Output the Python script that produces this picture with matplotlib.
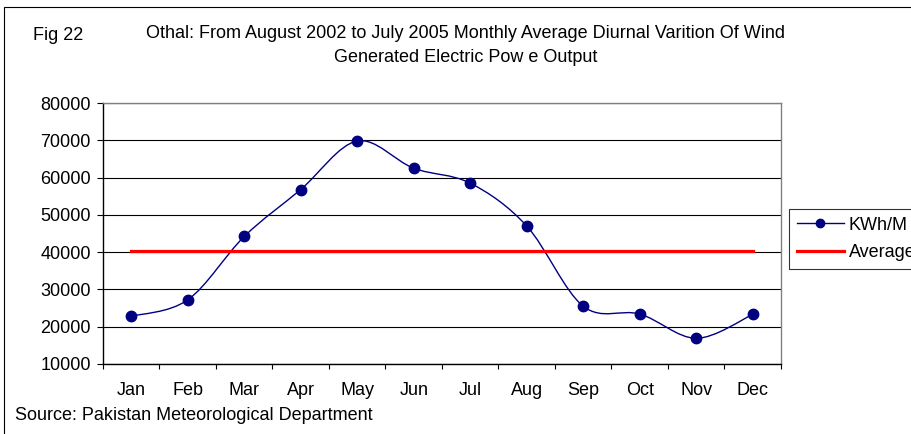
import numpy as np
import matplotlib
matplotlib.use("Agg")
import matplotlib.pyplot as plt
from matplotlib.path import Path
from matplotlib.patches import PathPatch, Rectangle
from matplotlib.lines import Line2D

months = ["Jan", "Feb", "Mar", "Apr", "May", "Jun", "Jul", "Aug", "Sep", "Oct", "Nov", "Dec"]
kwh = [22800, 27200, 44200, 56800, 69800, 62500, 58500, 47000, 25500, 23400, 16900, 23300]
average = [40300] * 12
yticks = [10000, 20000, 30000, 40000, 50000, 60000, 70000, 80000]

plt.rcParams['font.family'] = ['Liberation Sans', 'DejaVu Sans']
FS = 13

W, H = 912, 434
fig = plt.figure(figsize=(W / 100, H / 100), dpi=100)
fig.patch.set_facecolor('white')

# outer border (cropped at right/bottom)
fig.add_artist(Rectangle((4 / W, -0.1), 1.2, 1 - 7 / H + 0.1, transform=fig.transFigure,
                         fill=False, edgecolor='black', linewidth=0.8))

ax = fig.add_axes([103 / W, (H - 364) / H, 678 / W, 261 / H])
x = np.arange(len(months))

# smoothed line (Catmull-Rom style Bezier, like Excel smoothing)
pts = np.column_stack([x, kwh]).astype(float)
n = len(pts)
verts = [tuple(pts[0])]
codes = [Path.MOVETO]
for i in range(n - 1):
    p0 = pts[i - 1] if i > 0 else pts[i]
    p1 = pts[i]
    p2 = pts[i + 1]
    p3 = pts[i + 2] if i + 2 < n else pts[i + 1]
    c1 = p1 + (p2 - p0) / 6.0
    c2 = p2 - (p3 - p1) / 6.0
    verts += [tuple(c1), tuple(c2), tuple(p2)]
    codes += [Path.CURVE4] * 3
ax.add_patch(PathPatch(Path(verts, codes), facecolor='none', edgecolor='#000080',
                       linewidth=1.0, zorder=3))
ax.plot(x, kwh, linestyle='none', marker='o', markersize=7.5, color='#000080', zorder=4)
ax.plot(x, average, color='#ff0000', linewidth=2.3, zorder=3)

ax.set_xlim(-0.5, len(months) - 0.5)
ax.set_ylim(10000, 80000)
ax.set_yticks(yticks)
ax.set_yticklabels([str(v) for v in yticks])
ax.set_xticks(x)
ax.set_xticklabels(months)
ax.set_xticks(np.arange(-0.5, len(months), 1.0), minor=True)
ax.tick_params(axis='x', which='major', length=0, pad=13, labelsize=FS)
ax.tick_params(axis='x', which='minor', length=3.8, width=0.8, direction='out', color='black')
ax.tick_params(axis='y', which='major', length=4.3, width=0.8, direction='out', pad=4.5, labelsize=FS)
ax.grid(axis='y', color='black', linewidth=0.8)
ax.set_axisbelow(True)
for s in ['top', 'right']:
    ax.spines[s].set_color('#808080')
    ax.spines[s].set_linewidth(1.0)
for s in ['left', 'bottom']:
    ax.spines[s].set_color('black')
    ax.spines[s].set_linewidth(1.0)

fig.text(33 / W, 1 - 36 / H, "Fig 22", fontsize=FS, va='center', ha='left')
fig.text(466 / W, 1 - 33 / H, "Othal: From August 2002 to July 2005 Monthly Average Diurnal Varition Of Wind",
         fontsize=FS, va='center', ha='center')
fig.text(466 / W, 1 - 58 / H, "Generated Electric Pow e Output", fontsize=FS, va='center', ha='center')
fig.text(15 / W, 1 - 416 / H, "Source: Pakistan Meteorological Department", fontsize=FS,
         va='center', ha='left')

handles = [Line2D([], [], color='#000080', linewidth=1.0, marker='o', markersize=6),
           Line2D([], [], color='#ff0000', linewidth=2.3)]
leg = fig.legend(handles, ["KWh/M", "Average"], loc='upper left',
                 bbox_to_anchor=(789 / W, 1 - 209 / H), borderaxespad=0, fontsize=FS,
                 handlelength=2.6, handletextpad=0.28, labelspacing=0.6, borderpad=0.42,
                 frameon=True, fancybox=False)
leg.get_frame().set_edgecolor('black')
leg.get_frame().set_linewidth(0.8)

fig.savefig("out.png", dpi=100, facecolor='white')
